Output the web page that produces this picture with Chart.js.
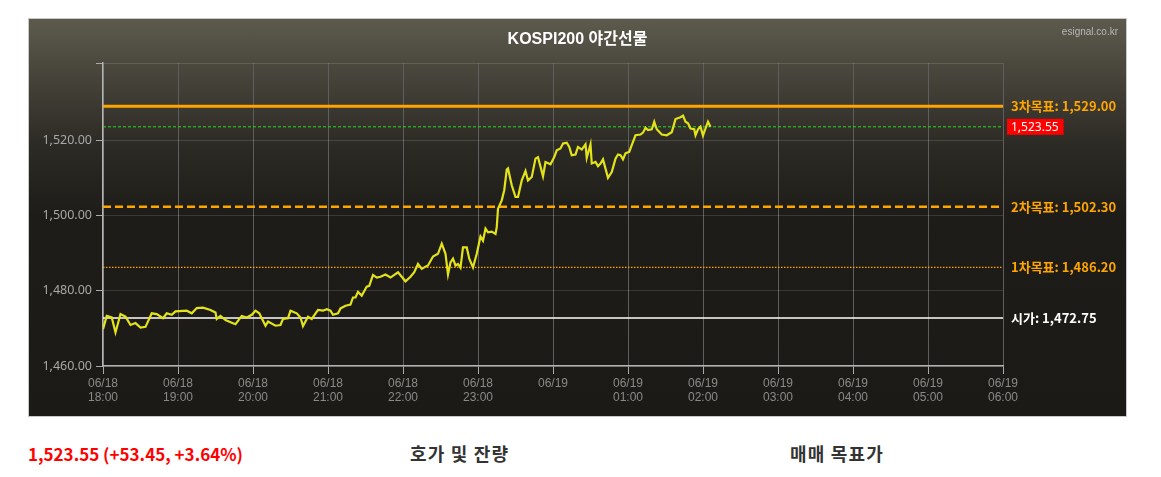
<!DOCTYPE html>
<html>
<head>
<meta charset="utf-8">
<script src="https://cdn.jsdelivr.net/npm/chart.js@4.4.0/dist/chart.umd.min.js"></script>
<style>
  html, body { margin: 0; padding: 0; background: #ffffff; width: 1161px; height: 477px; overflow: hidden; }
  #panel {
    position: absolute; left: 28px; top: 18px; width: 1099px; height: 399px; box-sizing: border-box;
    border: 1px solid #c8c8c8;
    background: linear-gradient(to bottom, #5d5a4d 0%, #47443b 14%, #2c2a24 32%, #1e1c18 50%, #1b1a16 100%);
  }
  #chart { position: absolute; left: 0; top: 0; }
  #title {
    position: absolute; left: 0; top: 6px; width: 1097px; text-align: center;
    font: bold 16px "Liberation Sans", "Noto Sans CJK KR", sans-serif; color: #ffffff;
  }
  #brand {
    position: absolute; right: 8px; top: 7px;
    font: 10px "Liberation Sans", sans-serif; color: #b8b8b8;
  }
  .bottom { position: absolute; font-weight: bold; font-family: "Noto Sans CJK KR", "Noto Sans", sans-serif; }
  #quote { left: 28px; top: 441px; font-size: 17px; color: #ff0000; }
  #tab1 { left: 410px; top: 440px; font-size: 18px; letter-spacing: 1.2px; color: #333333; }
  #tab2 { left: 790px; top: 440px; font-size: 18px; letter-spacing: 1.2px; color: #333333; }
</style>
</head>
<body>
<div id="panel">
  <canvas id="chart" width="1097" height="397"></canvas>
  <div id="title">KOSPI200 야간선물</div>
  <div id="brand">esignal.co.kr</div>
</div>
<div class="bottom" id="quote">1,523.55 (+53.45, +3.64%)</div>
<div class="bottom" id="tab1">호가 및 잔량</div>
<div class="bottom" id="tab2">매매 목표가</div>
<script>
// ---- data ----
// minutes after 06/18 18:00
const times = [0,3,7,10,14,18,22,26,30,34,39,43,48,51,55,58,67,71,75,80,86,90,91,94,98,103,106,111,115,119,122,125,130,132,138,142,144,148,150,155,158,160,164,167,172,176,179,182,184,188,190,194,198,200,202,204,207,211,213,216,219,222,226,230,236,242,246,249,252,255,258,260,264,268,271,274,276,278,280,282,284,286,288,291,293,296,299,302,304,306,308,311,314,315,316,319,321,323,324,327,330,332,335,338,340,343,346,348,352,354,358,361,363,366,368,371,373,375,378,380,383,386,387,390,391,394,396,398,400,404,407,410,412,414,416,418,421,423,426,430,432,434,436,439,441,443,447,451,455,458,462,464,466,468,470,473,474,476,478,480,482,484,486];
const prices = [1469.8,1473.3,1472.9,1468.9,1473.8,1473.1,1470.9,1471.4,1470.2,1470.4,1474.0,1473.8,1472.7,1474.0,1473.6,1474.5,1474.7,1474.0,1475.4,1475.5,1474.9,1474.2,1472.5,1473.3,1472.2,1471.5,1471.1,1473.3,1472.9,1473.6,1474.7,1474.0,1470.7,1471.8,1470.7,1470.9,1472.5,1472.7,1474.7,1474.0,1472.9,1470.6,1473.1,1472.5,1474.9,1474.7,1475.1,1474.7,1473.6,1474.0,1475.3,1476.0,1476.3,1478.2,1478.2,1479.7,1478.7,1481.1,1481.3,1484.2,1483.5,1483.7,1484.3,1483.5,1484.9,1482.5,1483.7,1484.9,1487.1,1485.8,1486.4,1486.7,1489.1,1489.8,1492.5,1489.8,1484.3,1487.5,1488.5,1486.7,1487.1,1486.1,1491.5,1491.5,1488.5,1486.2,1489.8,1494.4,1493.3,1496.5,1495.5,1495.7,1495.1,1496.9,1501.8,1504.0,1506.7,1512.2,1512.5,1508.0,1504.9,1504.9,1509.3,1511.8,1509.3,1510.2,1515.1,1515.5,1510.4,1514.2,1513.6,1515.5,1517.3,1517.8,1519.1,1519.3,1518.2,1516.0,1516.2,1518.2,1517.5,1518.9,1515.3,1518.9,1513.8,1514.2,1513.1,1513.8,1514.9,1510.0,1511.5,1515.1,1516.2,1516.0,1514.9,1516.5,1516.9,1518.7,1521.3,1521.5,1522.0,1523.3,1522.7,1522.9,1524.9,1522.9,1521.5,1521.3,1522.1,1525.6,1526.1,1526.5,1524.9,1524.5,1523.1,1522.9,1521.3,1522.9,1523.6,1521.2,1523.1,1524.9,1523.55];
const levelNames = ['3차목표', '2차목표', '1차목표', '시가'];
const levelValues = [1529.00, 1502.30, 1486.20, 1472.75];
const lastPrice = 1523.55;
const yTicks = [1460, 1480, 1500, 1520];
const xDates = ['06/18','06/18','06/18','06/18','06/18','06/18','06/19','06/19','06/19','06/19','06/19','06/19','06/19'];
const xTimes = ['18:00','19:00','20:00','21:00','22:00','23:00','','01:00','02:00','03:00','04:00','05:00','06:00'];

// ---- styles (kept apart from data) ----
const levelStyles = [
  { color: '#ffa500', width: 3, dash: [], text: '#ffa500' },
  { color: '#ffa500', width: 2.5, dash: [8, 4], text: '#ffa500' },
  { color: '#ffa500', width: 1.2, dash: [1.5, 1.5], text: '#ffa500' },
  { color: '#ffffff', width: 1.5, dash: [], text: '#ffffff' }
];
const X_MIN = 0, X_MAX = 720;
const fmt = v => v.toLocaleString('en-US', { minimumFractionDigits: 2, maximumFractionDigits: 2 });

const priceData = times.map((t, i) => ({ x: t, y: prices[i] }));
const datasets = [{
  data: priceData, borderColor: '#e3e31a', borderWidth: 2.2, pointRadius: 0, tension: 0
}, {
  data: [{ x: X_MIN, y: lastPrice }, { x: X_MAX, y: lastPrice }],
  borderColor: '#22dd22', borderWidth: 1, borderDash: [3, 2], pointRadius: 0
}];
levelValues.forEach((v, i) => {
  datasets.push({
    data: [{ x: X_MIN, y: v }, { x: X_MAX, y: v }],
    borderColor: levelStyles[i].color, borderWidth: levelStyles[i].width,
    borderDash: levelStyles[i].dash, pointRadius: 0
  });
});

const labelPlugin = {
  id: 'levelLabels',
  afterDraw(chart) {
    const ctx = chart.ctx, y = chart.scales.y, area = chart.chartArea;
    ctx.save();
    ctx.textBaseline = 'middle';
    ctx.textAlign = 'left';
    levelValues.forEach((v, i) => {
      const py = y.getPixelForValue(v);
      ctx.font = 'bold 13px "Noto Sans CJK KR", "Noto Sans", sans-serif';
      ctx.fillStyle = levelStyles[i].text;
      ctx.fillText(levelNames[i] + ': ' + fmt(v), area.right + 8, py);
    });
    const py = y.getPixelForValue(lastPrice);
    ctx.font = '12px "Noto Sans", sans-serif';
    const w = ctx.measureText(fmt(lastPrice)).width;
    ctx.fillStyle = '#ff0000';
    ctx.fillRect(area.right + 4, py - 8, w + 9, 16);
    ctx.fillStyle = '#ffffff';
    ctx.fillText(fmt(lastPrice), area.right + 8, py + 0.5);
    ctx.restore();
  }
};

new Chart(document.getElementById('chart'), {
  type: 'line',
  data: { datasets },
  plugins: [labelPlugin],
  options: {
    responsive: false, animation: false, devicePixelRatio: 1,
    layout: { padding: { left: 0, top: 44, right: 123, bottom: 0 } },
    plugins: { legend: { display: false }, tooltip: { enabled: false }, title: { display: false } },
    scales: {
      x: {
        type: 'linear', min: X_MIN, max: X_MAX,
        afterFit(s) { s.height = 50; },
        afterBuildTicks(s) { s.ticks = xTimes.map((_, i) => ({ value: i * 60 })); },
        ticks: {
          autoSkip: false, maxRotation: 0, color: '#8a8a8a', padding: 2,
          font: { family: '"Liberation Sans", sans-serif', size: 12, lineHeight: 1.2 },
          callback: (v) => { const i = Math.round(v / 60); return [xDates[i], xTimes[i]]; }
        },
        grid: { color: '#5e5e5e', lineWidth: 1, tickColor: '#aaaaaa', tickLength: 8 },
        border: { color: '#b4b4b4', width: 1.5 }
      },
      y: {
        min: 1460, max: 1540.5,
        afterFit(s) { s.width = 74; },
        afterBuildTicks(s) { s.ticks = yTicks.map(v => ({ value: v })).concat([{ value: 1540.5 }]); },
        ticks: {
          color: '#a8a8a8', padding: 4,
          font: { family: '"Noto Sans", sans-serif', size: 12.5 },
          callback: (v) => yTicks.includes(v) ? fmt(v) : ''
        },
        grid: { color: 'rgba(255,255,255,0.13)', lineWidth: 1, tickColor: '#aaaaaa', tickLength: 7 },
        border: { color: '#b4b4b4', width: 1.5 }
      }
    }
  }
});
</script>
</body>
</html>
